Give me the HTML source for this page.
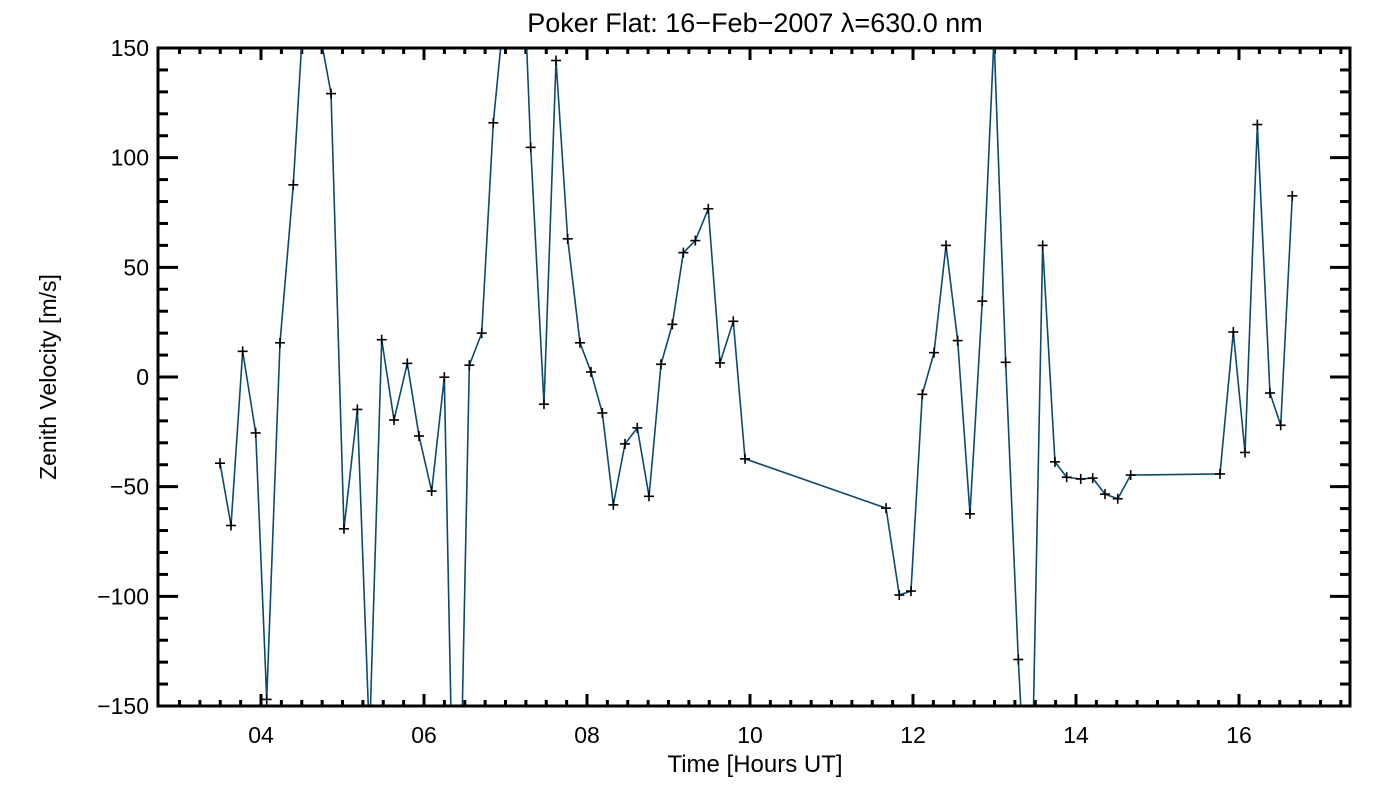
<!DOCTYPE html>
<html><head><meta charset="utf-8"><style>
html,body{margin:0;padding:0;background:#fff;width:1400px;height:800px;overflow:hidden;}
svg{display:block;font-family:"Liberation Sans",sans-serif;}
</style></head><body>
<svg id="chart" width="1400" height="800" viewBox="0 0 1400 800" xmlns="http://www.w3.org/2000/svg">
<rect x="0" y="0" width="1400" height="800" fill="#fff"/>
<text x="755" y="32" font-size="27" text-anchor="middle" fill="#000">Poker Flat: 16−Feb−2007 λ=630.0 nm</text>
<text x="755" y="772" font-size="24" text-anchor="middle" fill="#000">Time [Hours UT]</text>
<text x="56" y="377" font-size="23" text-anchor="middle" fill="#000" transform="rotate(-90 56 377)">Zenith Velocity [m/s]</text>
<g id="ticks"></g>
<g id="series"></g>
<rect x="158" y="48" width="1192" height="658" fill="none" stroke="#000" stroke-width="3"/>
</svg>
<script>
const hours = [3.497,3.632,3.775,3.935,4.070,4.233,4.396,4.560,4.859,5.018,5.182,5.331,5.481,5.632,5.795,5.939,6.094,6.249,6.399,6.556,6.708,6.850,7.006,7.153,7.309,7.472,7.620,7.763,7.914,8.049,8.188,8.323,8.466,8.617,8.761,8.908,9.047,9.182,9.329,9.488,9.632,9.795,9.939,11.669,11.832,11.975,12.114,12.258,12.405,12.548,12.699,12.850,12.994,13.137,13.292,13.436,13.591,13.742,13.886,14.058,14.205,14.356,14.512,14.671,15.767,15.930,16.074,16.225,16.380,16.512,16.654];
const velocity = [-39.3,-67.7,11.7,-25.5,-147,15.6,87.6,190,129.2,-69.2,-14.8,-165,17,-19.6,6.2,-26.9,-52,-0.1,-280,5.4,20,115.9,175,250,104.7,-12.4,144.3,63,15.6,2.3,-16.4,-58.3,-30.5,-23.2,-54.4,5.8,24,56.7,62.2,76.7,6.4,25.4,-37.3,-59.8,-99.4,-97.6,-7.9,11.1,60,16.6,-62.4,34.6,155,6.7,-128.8,-230,60,-38.7,-45.7,-46.5,-46.1,-53.4,-55.5,-44.7,-44.2,20.5,-34.4,115.1,-7.3,-22,82.6];
const xTickValues = [4,6,8,10,12,14,16];
const xTickLabels = ["04","06","08","10","12","14","16"];
const yTickValues = [-150,-100,-50,0,50,100,150];
const yTickLabels = ["−150","−100","−50","0","50","100","150"];

const L=158,R=1350,T=48,B=706,XMIN=2.736,XMAX=17.362,YMIN=-150,YMAX=150;
const xs=h=>L+(h-XMIN)/(XMAX-XMIN)*(R-L);
const ys=v=>B-(v-YMIN)/(YMAX-YMIN)*(B-T);
const NS="http://www.w3.org/2000/svg";
const tg=document.getElementById('ticks'), sg=document.getElementById('series');
function line(g,x1,y1,x2,y2,w,c){const l=document.createElementNS(NS,'line');l.setAttribute('x1',x1);l.setAttribute('y1',y1);l.setAttribute('x2',x2);l.setAttribute('y2',y2);l.setAttribute('stroke',c||'#000');l.setAttribute('stroke-width',w);g.appendChild(l);return l;}
for(let h=3;h<=17.3;h+=0.25){const x=xs(h);const maj=Math.abs(h/2-Math.round(h/2))<1e-6;const len=maj?12:6;
 const a=line(tg,x,B,x,B-len,3);
 const b=line(tg,x,T,x,T+len,3);}
xTickValues.forEach((h,i)=>{const t=document.createElementNS(NS,'text');t.setAttribute('x',xs(h));t.setAttribute('y',743);t.setAttribute('font-size','23');t.setAttribute('text-anchor','middle');t.textContent=xTickLabels[i];
 
 
 tg.appendChild(t);});
for(let v=-150;v<=150;v+=10){const y=ys(v);const maj=v%50===0;const len=maj?20:10;
 const a=line(tg,L,y,L+len,y,3);
 const b=line(tg,R,y,R-len,y,3);}
yTickValues.forEach((v,i)=>{const t=document.createElementNS(NS,'text');t.setAttribute('x',149);t.setAttribute('y',ys(v)+8);t.setAttribute('font-size','23');t.setAttribute('text-anchor','end');t.textContent=yTickLabels[i];
 
 
 tg.appendChild(t);});
// series segments clipped to the y range
const clampV=v=>Math.max(YMIN,Math.min(YMAX,v));
let d='';
for(let i=0;i<hours.length-1;i++){
 let h1=hours[i],v1=velocity[i],h2=hours[i+1],v2=velocity[i+1];
 if((v1>YMAX&&v2>YMAX)||(v1<YMIN&&v2<YMIN))continue;
 const f=v=>(v-v1)/(v2-v1);
 let a=0,b=1;
 if(v2!==v1){
  const tA=f(YMAX),tB=f(YMIN);
  const lo=Math.min(tA,tB),hi=Math.max(tA,tB);
  a=Math.max(0,lo);b=Math.min(1,hi);
 }
 const xa=h1+(h2-h1)*a,va=v1+(v2-v1)*a,xb=h1+(h2-h1)*b,vb=v1+(v2-v1)*b;
 d+='M'+xs(xa).toFixed(2)+','+ys(clampV(va)).toFixed(2)+'L'+xs(xb).toFixed(2)+','+ys(clampV(vb)).toFixed(2);
}
const pl=document.createElementNS(NS,'path');
pl.setAttribute('d',d);
pl.setAttribute('fill','none');pl.setAttribute('stroke','#0b4a6e');pl.setAttribute('stroke-width','1.6');


sg.appendChild(pl);
hours.forEach((h,i)=>{
 if(velocity[i]>YMAX||velocity[i]<YMIN)return;
 const x=xs(h),y=ys(velocity[i]);
 const g=document.createElementNS(NS,'g');
 
 
 line(g,x-5,y,x+5,y,1.6);line(g,x,y-5,x,y+5,1.6);sg.appendChild(g);});
</script>
</body></html>
